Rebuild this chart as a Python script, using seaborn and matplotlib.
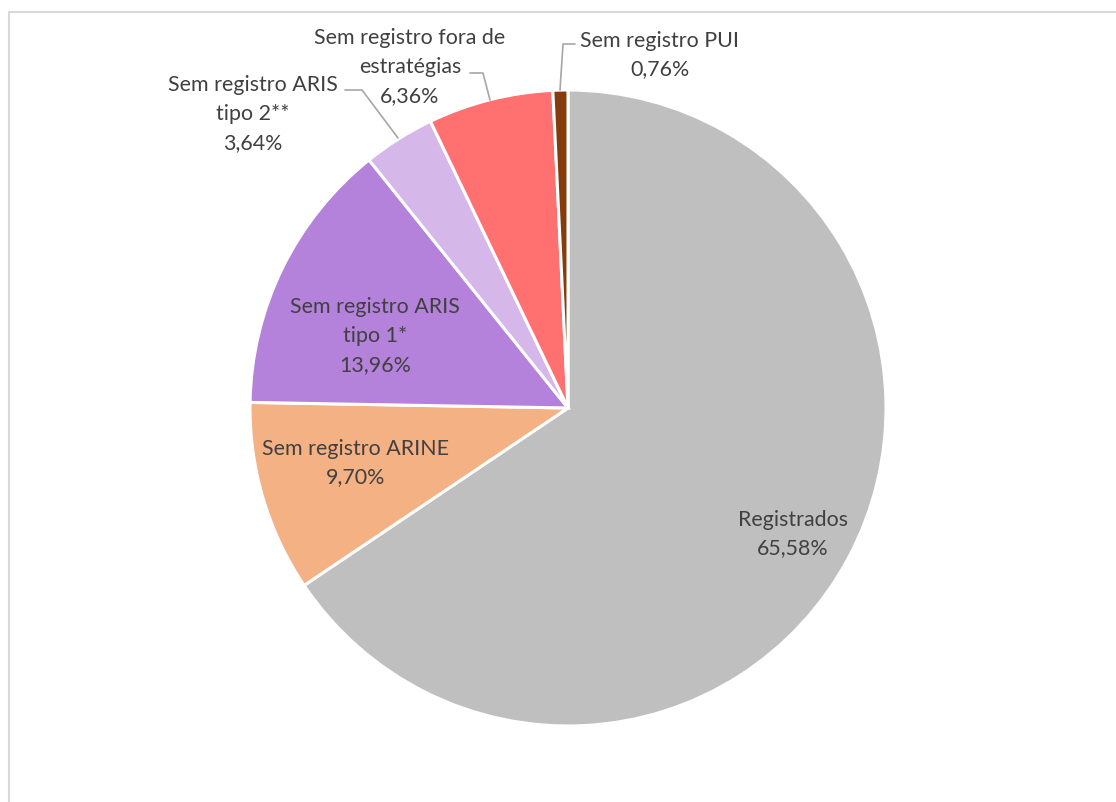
import matplotlib
matplotlib.use("Agg")
import matplotlib.pyplot as plt
import seaborn as sns

# Share of records by registration status
categories = [
    "Registrados",
    "Sem registro ARINE",
    "Sem registro ARIS\ntipo 1*",
    "Sem registro ARIS\ntipo 2**",
    "Sem registro fora de\nestratégias",
    "Sem registro PUI",
]
values = [65.58, 9.70, 13.96, 3.64, 6.36, 0.76]
value_labels = ["65,58%", "9,70%", "13,96%", "3,64%", "6,36%", "0,76%"]
colors = ["#BFBFBF", "#F4B183", "#B482DA", "#D5B7EA", "#FF7070", "#843C0C"]

sns.set_theme(style="white")
plt.rcParams["font.family"] = ["Lato", "DejaVu Sans"]

W, H = 1116, 802
fig = plt.figure(figsize=(W / 100, H / 100), dpi=100)
ax = fig.add_axes([0, 0, 1, 1])

# work in pixel units, y measured from the bottom
cx, cy, r = 568, H - 408, 318
wedges, _ = ax.pie(
    values,
    colors=colors,
    startangle=90,
    counterclock=False,
    center=(cx, cy),
    radius=r,
    wedgeprops=dict(edgecolor="white", linewidth=2.2),
)
ax.set_xlim(0, W)
ax.set_ylim(0, H)
ax.set_aspect("equal")
ax.axis("off")

text_color = "#404040"
fs = 15.4
label_pos = [
    (793, 534),
    (356, 463),
    (375, 336),
    (253, 114),
    (410, 67),
    (660, 55),
]
for cat, val, (x, y) in zip(categories, value_labels, label_pos):
    ax.text(x, H - y, f"{cat}\n{val}", ha="center", va="center",
            fontsize=fs, color=text_color, linespacing=1.55)

# leader lines for the small outer slices
leader = "#A6A6A6"
ax.plot([345, 362, 398], [H - 90, H - 90, H - 138], color=leader, lw=1.2)
ax.plot([470, 483, 490], [H - 73, H - 73, H - 100], color=leader, lw=1.2)
ax.plot([575, 563, 560], [H - 44, H - 44, H - 90], color=leader, lw=1.2)

# chart area frame
ax.plot([8.5, 8.5, W], [0, H - 11.5, H - 11.5], color="#D9D9D9", lw=1.5,
        solid_joinstyle="miter")

fig.savefig("out.png", dpi=100, facecolor="white")
